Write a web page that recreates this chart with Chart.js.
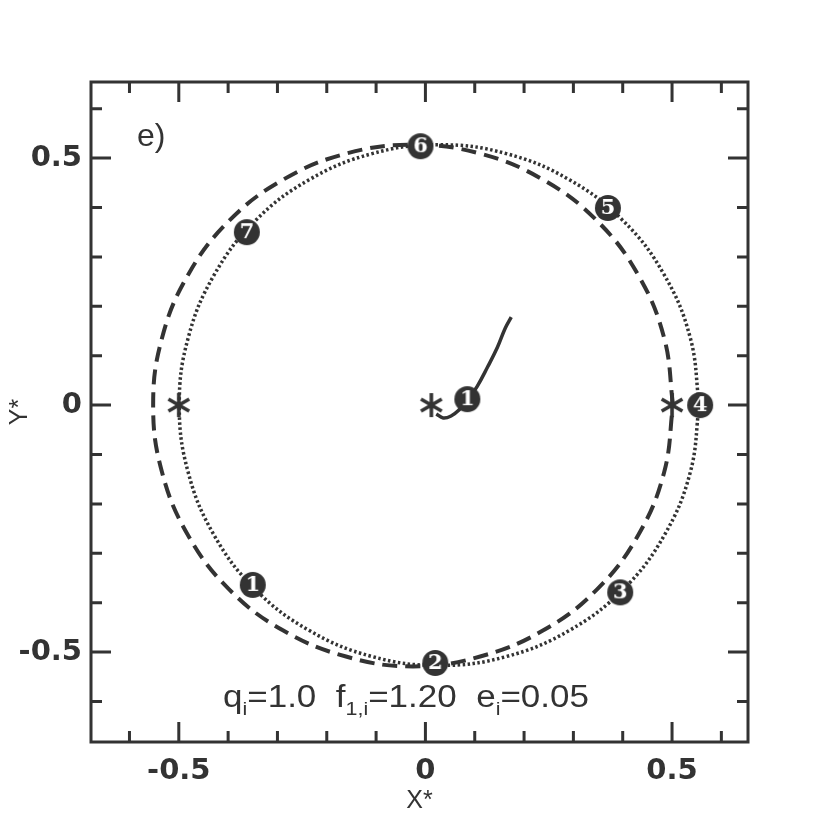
<!DOCTYPE html>
<html>
<head>
<meta charset="utf-8">
<script src="https://cdn.jsdelivr.net/npm/chart.js@4.4.0/dist/chart.umd.min.js"></script>
<style>body{margin:0;background:#fff}</style>
</head>
<body>
<canvas id="orbit" width="830" height="830"></canvas>
<script>
const ink = '#333';

// dashed orbit
const dashedX = [0.502, 0.484, 0.431, 0.348, 0.239, 0.111, -0.025, -0.161, -0.289, -0.398, -0.481, -0.534, -0.552,
                 -0.534, -0.481, -0.398, -0.289, -0.161, -0.025, 0.111, 0.239, 0.348, 0.431, 0.484, 0.502];
const dashedY = [0, 0.136, 0.264, 0.373, 0.456, 0.509, 0.527, 0.509, 0.456, 0.373, 0.264, 0.136, 0,
                 -0.136, -0.264, -0.373, -0.456, -0.509, -0.529, -0.509, -0.456, -0.373, -0.264, -0.136, 0];

// dotted orbit
const dottedX = [0.555, 0.537, 0.484, 0.401, 0.292, 0.164, 0.028, -0.108, -0.236, -0.345, -0.428, -0.481, -0.499,
                 -0.481, -0.428, -0.345, -0.236, -0.108, 0.028, 0.164, 0.292, 0.401, 0.484, 0.537, 0.555];
const dottedY = [0, 0.136, 0.264, 0.373, 0.456, 0.509, 0.527, 0.509, 0.456, 0.373, 0.264, 0.136, 0,
                 -0.136, -0.264, -0.373, -0.456, -0.509, -0.527, -0.509, -0.456, -0.373, -0.264, -0.136, 0];

// solid track near the centre
const trackX = [0.022, 0.036, 0.052, 0.068, 0.085, 0.105, 0.126, 0.146, 0.162, 0.174];
const trackY = [-0.018, -0.026, -0.022, -0.010, 0.010, 0.038, 0.077, 0.117, 0.156, 0.178];

// stars
const starX = [-0.5, 0.012, 0.5];
const starY = [0, 0, 0];

// numbered markers
const markLabels = ['1', '2', '3', '4', '5', '6', '7', '1'];
const markX = [-0.350, 0.020, 0.395, 0.557, 0.370, -0.010, -0.362, 0.085];
const markY = [-0.364, -0.522, -0.379, 0, 0.399, 0.524, 0.350, 0.012];

const xMin = -0.678, xMax = 0.654;
const yMin = -0.682, yMax = 0.654;

const pts = (xs, ys) => xs.map((v, i) => ({x: v, y: ys[i]}));

function makeBadge(txt) {
    const c = document.createElement('canvas');
    c.width = 28; c.height = 28;
    const g = c.getContext('2d');
    g.fillStyle = ink;
    g.beginPath(); g.arc(14, 14, 13, 0, Math.PI * 2); g.fill();
    g.fillStyle = '#fff';
    g.font = 'bold 21px "DejaVu Serif"';
    g.textAlign = 'center'; g.textBaseline = 'middle';
    g.fillText(txt, 14, 15);
    return c;
}

function makeStar() {
    const c = document.createElement('canvas');
    c.width = 30; c.height = 30;
    const g = c.getContext('2d');
    g.strokeStyle = ink; g.lineWidth = 3.6; g.lineCap = 'butt';
    g.beginPath();
    for (let k = 0; k < 3; k++) {
        const a = Math.PI / 2 + k * Math.PI / 3;
        g.moveTo(15 + 12 * Math.cos(a), 15 + 12 * Math.sin(a));
        g.lineTo(15 - 12 * Math.cos(a), 15 - 12 * Math.sin(a));
    }
    g.stroke();
    return c;
}

const tickLabel = v => {
    if (Math.abs(v * 2 - Math.round(v * 2)) > 1e-6) return '';
    return Math.abs(v) < 1e-6 ? '0' : v.toFixed(1);
};

const framePlugin = {
    id: 'frame',
    afterDatasetsDraw(chart) {
        const {ctx, chartArea: a, scales: {x, y}} = chart;
        ctx.save();
        ctx.strokeStyle = ink;
        ctx.lineWidth = 3;
        ctx.strokeRect(a.left, a.top, a.right - a.left, a.bottom - a.top);
        ctx.beginPath();
        x.ticks.forEach(t => {
            const px = x.getPixelForValue(t.value);
            const len = t.label ? 20 : 11;
            ctx.moveTo(px, a.bottom); ctx.lineTo(px, a.bottom - len);
            ctx.moveTo(px, a.top); ctx.lineTo(px, a.top + len);
        });
        y.ticks.forEach(t => {
            const py = y.getPixelForValue(t.value);
            const len = t.label ? 20 : 11;
            ctx.moveTo(a.left, py); ctx.lineTo(a.left + len, py);
            ctx.moveTo(a.right, py); ctx.lineTo(a.right - len, py);
        });
        ctx.stroke();

        // panel letter
        ctx.fillStyle = ink;
        ctx.font = '32px "Liberation Sans"';
        ctx.textBaseline = 'alphabetic';
        ctx.fillText('e)', 137, 146);

        // parameter line with subscripts
        const parts = [['q', 0], ['i', 1], ['=1.0  f', 0], ['1,i', 1], ['=1.20  e', 0], ['i', 1], ['=0.05', 0]];
        const big = '31px "Liberation Sans"', small = '19px "Liberation Sans"';
        let total = 0;
        parts.forEach(p => { ctx.font = p[1] ? small : big; total += ctx.measureText(p[0]).width; });
        const sx = 366 / total;
        ctx.translate(223, 707);
        ctx.scale(sx, 1);
        let cx = 0;
        parts.forEach(p => {
            ctx.font = p[1] ? small : big;
            ctx.fillText(p[0], cx, p[1] ? 8 : 0);
            cx += ctx.measureText(p[0]).width;
        });
        ctx.restore();
    }
};

const orbit = new Chart(document.getElementById('orbit'), {
    type: 'scatter',
    data: {
        datasets: [
            { data: pts(markX, markY), pointStyle: markLabels.map(makeBadge), pointRadius: 14, order: 0 },
            { data: pts(starX, starY), pointStyle: makeStar(), pointRadius: 15, order: 1 },
            { data: pts(trackX, trackY), showLine: true, pointRadius: 0, borderColor: ink, borderWidth: 3.5, tension: 0.4, order: 2 },
            { data: pts(dashedX, dashedY), showLine: true, pointRadius: 0, borderColor: ink, borderWidth: 4, borderDash: [15, 8], tension: 0.4, order: 3 },
            { data: pts(dottedX, dottedY), showLine: true, pointRadius: 0, borderColor: ink, borderWidth: 3.5, borderDash: [2.5, 2.5], tension: 0.4, order: 4 }
        ]
    },
    options: {
        responsive: false,
        animation: false,
        layout: { padding: { left: 0, top: 82, right: 82, bottom: 0 } },
        plugins: { legend: { display: false }, tooltip: { enabled: false } },
        scales: {
            x: {
                type: 'linear', min: xMin, max: xMax,
                grid: { display: false, drawTicks: false },
                border: { display: false },
                ticks: { stepSize: 0.1, includeBounds: false, autoSkip: false, maxRotation: 0,
                         callback: tickLabel, padding: 12, color: ink,
                         font: { family: 'DejaVu Sans', weight: 'bold', size: 29 } },
                title: { display: true, text: 'X*', color: ink, padding: { bottom: 14 },
                         font: { family: 'Liberation Sans', size: 25 } },
                afterFit: s => { s.height = 88; }
            },
            y: {
                type: 'linear', min: yMin, max: yMax,
                grid: { display: false, drawTicks: false },
                border: { display: false },
                ticks: { stepSize: 0.1, includeBounds: false, autoSkip: false,
                         callback: tickLabel, padding: 9, color: ink,
                         font: { family: 'DejaVu Sans', weight: 'bold', size: 29 } },
                title: { display: true, text: 'Y*', color: ink, padding: { top: 5 },
                         font: { family: 'Liberation Sans', size: 25 } },
                afterFit: s => { s.width = 91; }
            }
        }
    },
    plugins: [framePlugin]
});
</script>
</body>
</html>
